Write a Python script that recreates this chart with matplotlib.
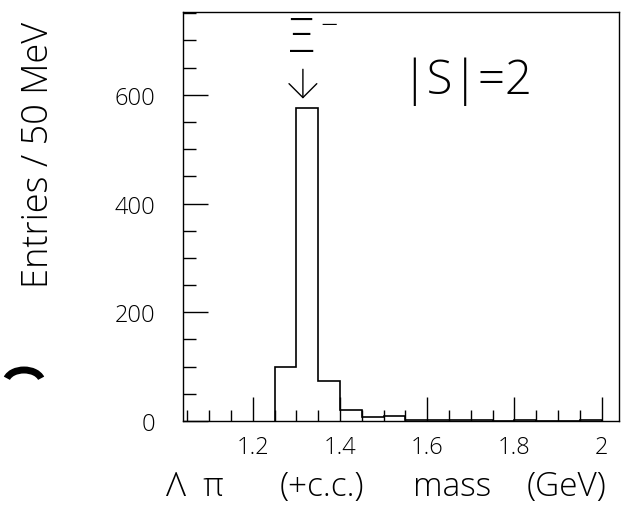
import numpy as np
import matplotlib
matplotlib.use("Agg")
import matplotlib.pyplot as plt
from matplotlib.patches import Arc

plt.rcParams["font.family"] = ["Open Sans", "DejaVu Sans"]
plt.rcParams["font.weight"] = "light"

# bin edges (GeV) and entries per 50 MeV bin
bin_edges = [1.25, 1.30, 1.35, 1.40, 1.45, 1.50, 1.55, 1.60, 1.65, 1.70,
             1.75, 1.80, 1.85, 1.90, 1.95, 2.00]
entries = [100, 576, 73, 20, 7, 10, 2, 1, 1, 1, 0, 1, 0, 0, 1]

x_major = [1.2, 1.4, 1.6, 1.8, 2.0]
x_major_labels = ["1.2", "1.4", "1.6", "1.8", "2"]
y_major = [0, 200, 400, 600]

fig = plt.figure(figsize=(6.23, 5.06), dpi=100)
ax = fig.add_axes([0.2937, 0.166, 0.700, 0.808])

ax.stairs(entries, bin_edges, color="black", lw=1.2, baseline=0)

ax.set_xlim(1.04, 2.04)
ax.set_ylim(0, 752)

ax.set_xticks(x_major)
ax.set_xticklabels(x_major_labels)
ax.set_xticks(np.arange(1.05, 2.04, 0.05), minor=True)
ax.set_yticks(y_major)
ax.set_yticks(np.arange(0, 751, 50), minor=True)

ax.tick_params(which="both", direction="in", top=False, right=False,
               width=1.0, colors="black")
ax.tick_params(axis="x", which="major", length=17, pad=10, labelsize=17)
ax.tick_params(axis="x", which="minor", length=8)
ax.tick_params(axis="y", which="major", length=18, pad=20, labelsize=17)
ax.tick_params(axis="y", which="minor", length=9)
for s in ax.spines.values():
    s.set_linewidth(1.0)

# Xi- peak marker
ax.text(1.313, 703, "Ξ", fontsize=34, ha="center", va="center")
ax.text(1.356, 727, "−", fontsize=22, ha="left", va="center")
ax.annotate("", xy=(1.315, 588), xytext=(1.315, 652),
            arrowprops=dict(arrowstyle="->,head_width=1.0,head_length=1.0",
                            color="black", lw=1.0))

ax.text(1.69, 626, "|S|=2", fontsize=34, ha="center", va="center")

fig.text(0.061, 0.694, "Entries / 50 MeV", rotation=90, fontsize=26,
         ha="center", va="center")

# x-axis title, spread out like the original lettering
fig.text(195 / 623, 0.038, "Λ  π", fontsize=24, ha="center", va="center")
fig.text(322 / 623, 0.038, "(+c.c.)", fontsize=24, ha="center", va="center")
fig.text(452 / 623, 0.038, "mass", fontsize=24, ha="center", va="center")
fig.text(567 / 623, 0.038, "(GeV)", fontsize=24, ha="center", va="center")

# dark smudge on the scan, left margin
fig.patches.append(Arc((24 / 623, 1 - 383 / 506), 36 / 623, 24 / 506,
                       theta1=15, theta2=165, lw=5, color="black",
                       transform=fig.transFigure, figure=fig))

fig.savefig("out.png", dpi=100)
